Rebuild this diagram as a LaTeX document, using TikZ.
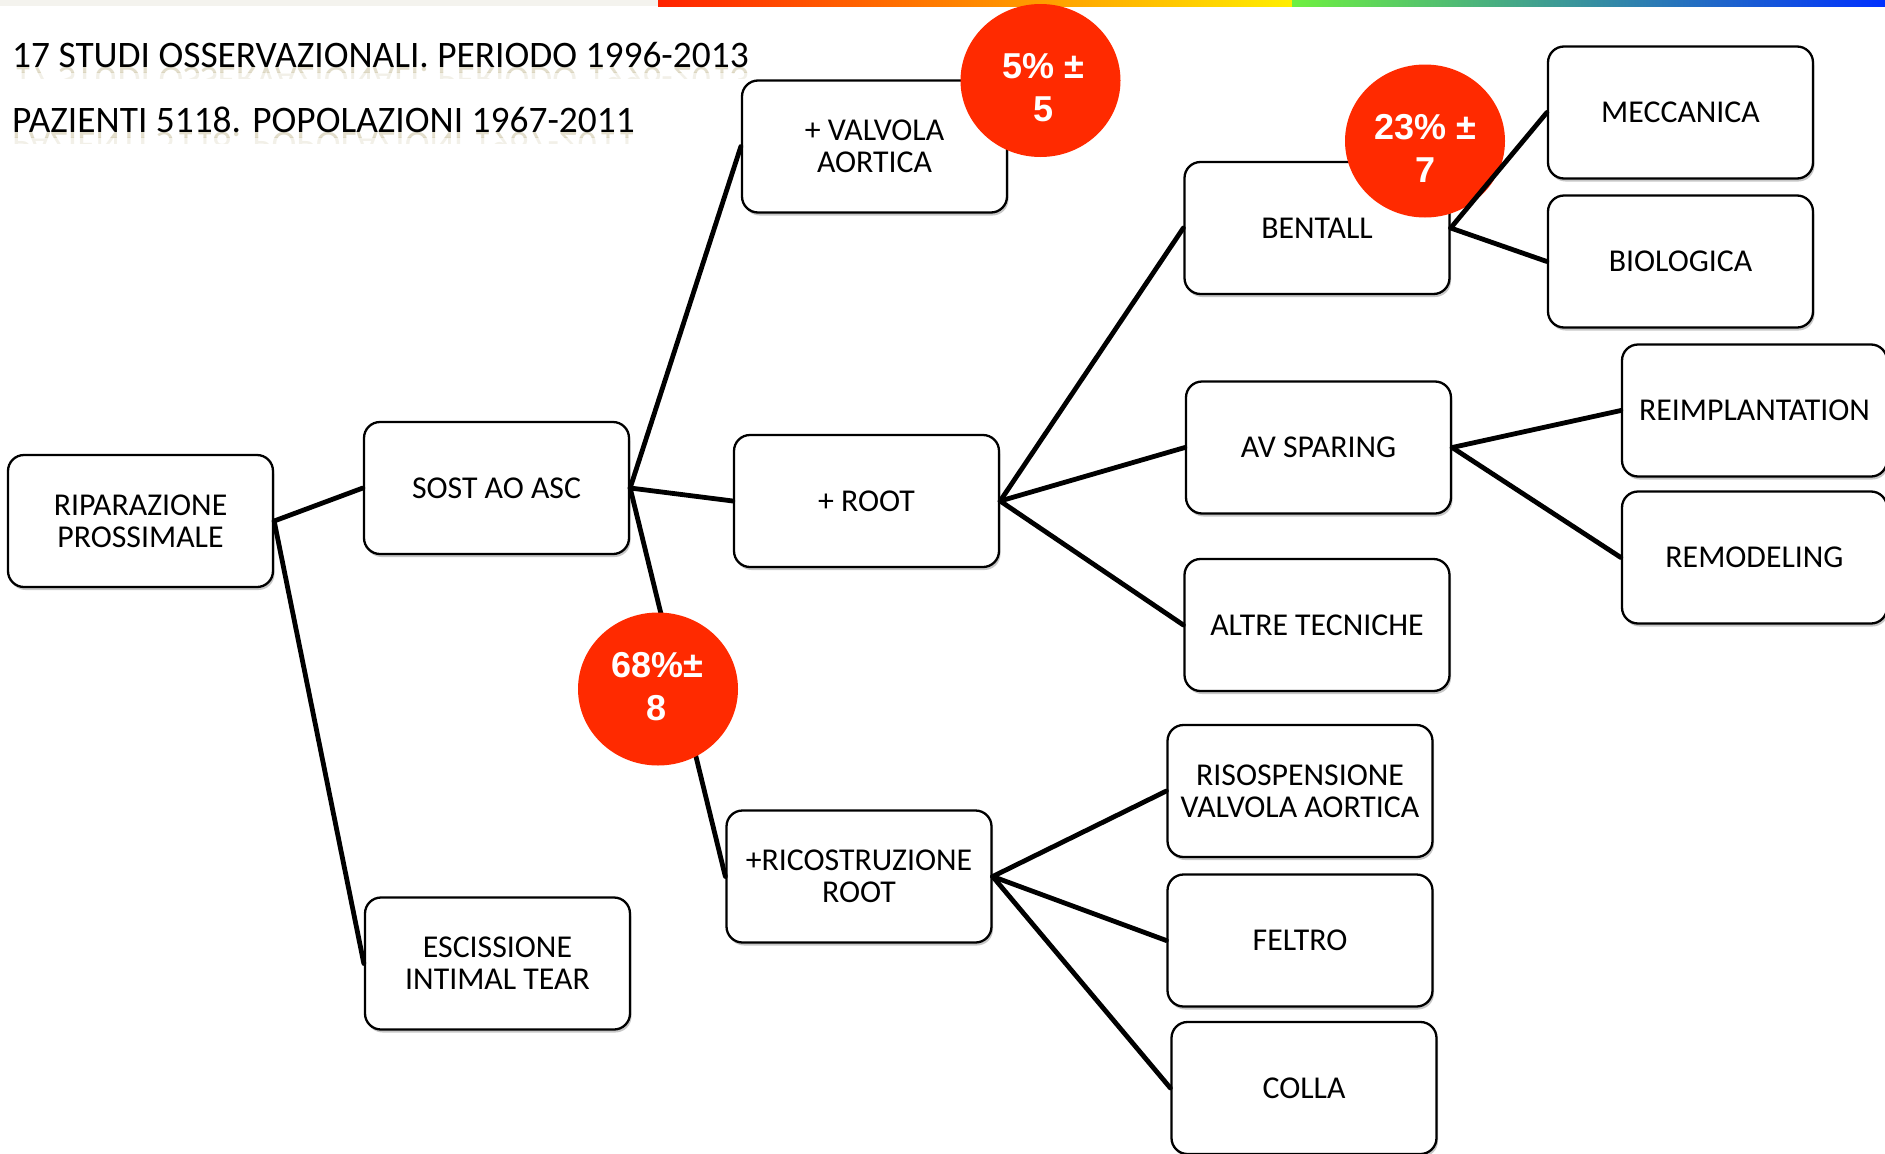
\documentclass[tikz,border=0pt]{standalone}
\usepackage{fontspec}
\setmainfont{Carlito}
\newfontfamily\circfont{Liberation Sans}
\usetikzlibrary{shapes.geometric,shadows}
\definecolor{circred}{HTML}{FF2A00}
\definecolor{bargrey}{HTML}{F4F3EE}
\definecolor{reflcol}{RGB}{190,180,140}
\tikzset{
  box/.style={draw=black, line width=2.3pt, rounded corners=16pt, fill=white,
    minimum width=265pt, minimum height=132pt, align=center, inner sep=2pt,
    font=\fontsize{31.8}{32}\selectfont,
    drop shadow={shadow xshift=1.5pt, shadow yshift=-3pt, opacity=0.22, fill=black}},
  conn/.style={line width=4.8pt, line cap=round, line join=round},
  badge/.style={ellipse, fill=circred, minimum width=160pt, minimum height=153pt, inner sep=0pt},
  badgetext/.style={text=white, align=center, font=\circfont\bfseries\fontsize{36}{43}\selectfont, inner sep=0pt},
  titletext/.style={anchor=base west, inner sep=0pt, font=\fontsize{37.4}{40}\selectfont},
  refltext/.style={titletext, transform shape, yscale=-1, text=reflcol},
}
\begin{document}
\begin{tikzpicture}[x=1pt,y=-1pt]
\useasboundingbox (0,0) rectangle (1885,1154);
\clip (0,0) rectangle (1885,1154);
% top bar
\fill[bargrey] (0,0) rectangle (658,6);
\shade[left color={rgb,255:red,255;green,34;blue,0}, middle color={rgb,255:red,255;green,140;blue,0}, right color={rgb,255:red,255;green,238;blue,0}] (658,0) rectangle (1292,6);
\shade[left color={rgb,255:red,110;green,240;blue,64}, middle color={rgb,255:red,58;green,154;blue,154}, right color={rgb,255:red,0;green,48;blue,255}] (1292,0) rectangle (1885,6);

% faint reflections of the titles
\begin{scope}
\clip (0,67) rectangle (800,72);
\node[refltext, opacity=0.45] (t1ra) at (12,67) {17 STUDI OSSERVAZIONALI. PERIODO 1996-2013};
\end{scope}
\begin{scope}
\clip (0,72) rectangle (800,78);
\node[refltext, opacity=0.2] (t1rb) at (12,67) {17 STUDI OSSERVAZIONALI. PERIODO 1996-2013};
\end{scope}
\begin{scope}
\clip (0,132) rectangle (800,137);
\node[refltext, opacity=0.45] (t2ra) at (12,132) {PAZIENTI 5118. POPOLAZIONI 1967-2011};
\end{scope}
\begin{scope}
\clip (0,137) rectangle (800,143);
\node[refltext, opacity=0.2] (t2rb) at (12,132) {PAZIENTI 5118. POPOLAZIONI 1967-2011};
\end{scope}
% titles
\node[titletext] (t1) at (12,67) {17 STUDI OSSERVAZIONALI. PERIODO 1996-2013};
\node[titletext] (t2) at (12,132) {PAZIENTI 5118. POPOLAZIONI 1967-2011};

% boxes
\node[box] (rip)   at (140.5,521)  {RIPARAZIONE\\PROSSIMALE};
\node[box] (sost)  at (496.5,488)  {SOST AO ASC};
\node[box] (esc)   at (497.5,963.5){ESCISSIONE\\INTIMAL TEAR};
\node[box] (valv)  at (874.5,146.5){+ VALVOLA\\AORTICA};
\node[box] (root)  at (866.5,501)  {+ ROOT};
\node[box] (rico)  at (859,876.5)  {+RICOSTRUZIONE\\ROOT};
\node[box] (bent)  at (1317,228)   {BENTALL};
\node[box] (avs)   at (1318.5,447.5){AV SPARING};
\node[box] (altre) at (1317,625)   {ALTRE TECNICHE};
\node[box] (riso)  at (1300,791)   {RISOSPENSIONE\\VALVOLA AORTICA};
\node[box] (felt)  at (1300,940.5) {FELTRO};
\node[box] (colla) at (1304,1088)  {COLLA};
\node[box] (mecc)  at (1680.5,112.5){MECCANICA};
\node[box] (bio)   at (1680.5,261.5){BIOLOGICA};
\node[box] (reimp) at (1754.5,410.5){REIMPLANTATION};
\node[box] (remod) at (1754.5,557.5){REMODELING};

% badges under connectors
\node[badge] (b5)  at (1040.5,80.5) {};
\node[badge] (b23) at (1425,141) {};

% connectors
\draw[conn] (rip.east) -- (sost.west);
\draw[conn] (rip.east) -- (esc.west);
\draw[conn] (sost.east) -- (valv.west);
\draw[conn] (sost.east) -- (root.west);
\draw[conn] (sost.east) -- (rico.west);
\draw[conn] (root.east) -- (bent.west);
\draw[conn] (root.east) -- (avs.west);
\draw[conn] (root.east) -- (altre.west);
\draw[conn] (bent.east) -- (mecc.west);
\draw[conn] (bent.east) -- (bio.west);
\draw[conn] (avs.east) -- (reimp.west);
\draw[conn] (avs.east) -- (remod.west);
\draw[conn] (rico.east) -- (riso.west);
\draw[conn] (rico.east) -- (felt.west);
\draw[conn] (rico.east) -- (colla.west);

% badge over connector
\node[badge] (b68) at (658,689) {};

% badge texts
\node[badgetext] (b5t)  at (1043,88)  {5\% ±\\5};
\node[badgetext] (b23t) at (1425,148) {23\% ±\\7};
\node[badgetext] (b68t) at (657,687)  {68\%±\\8};
\end{tikzpicture}
\end{document}
